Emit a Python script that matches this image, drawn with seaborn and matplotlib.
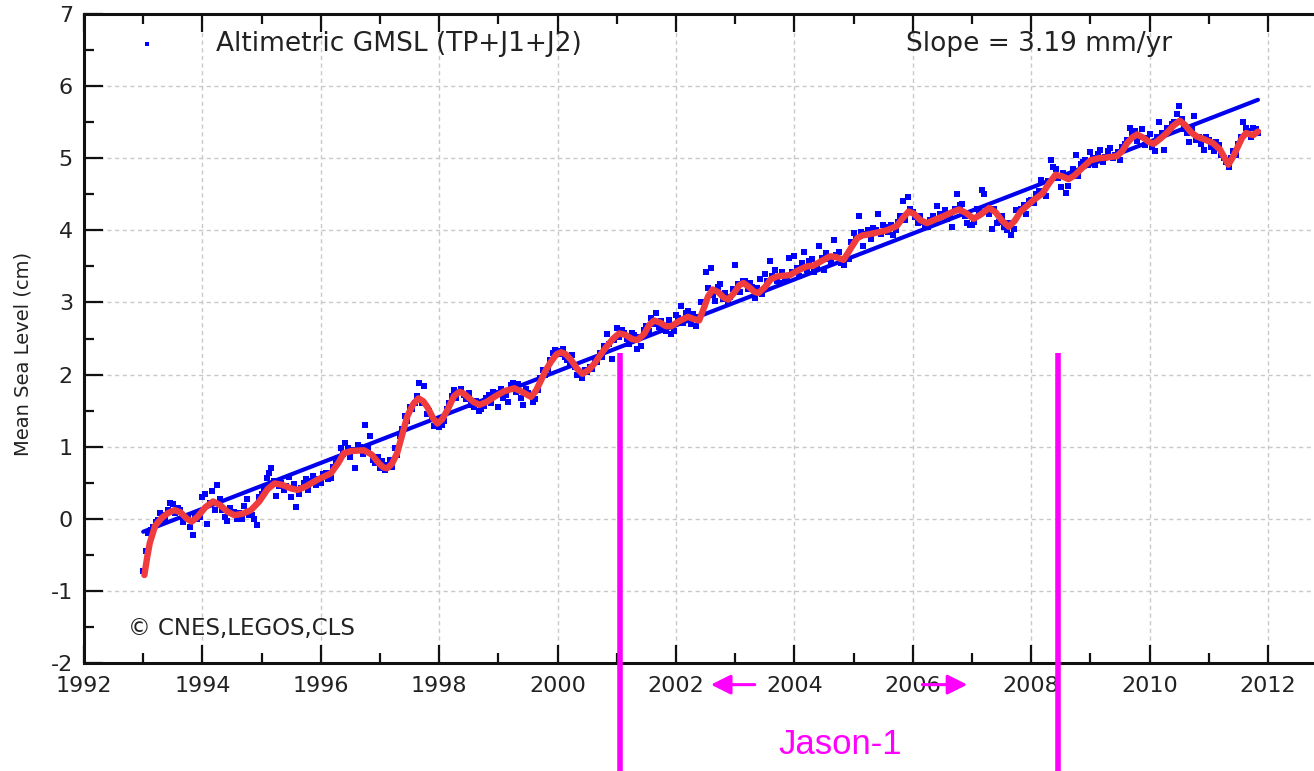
import numpy as np
import pandas as pd
import matplotlib
matplotlib.use("Agg")
import matplotlib.pyplot as plt
from matplotlib.ticker import MultipleLocator
import seaborn as sns

# ---------------- data ----------------
# GMSL dots, start-of-month samples
gmsl_1993 = [-0.72, -0.2, -0.12, -0.02, 0.05, 0.12, 0.21, 0.15, -0.05, 0.02, -0.22, 0.0]
gmsl_1994 = [0.3, -0.07, 0.38, 0.47, 0.12, -0.03, 0.08, 0.0, -0.01, 0.28, 0.05, -0.09]
gmsl_1995 = [0.35, 0.57, 0.7, 0.32, 0.5, 0.46, 0.3, 0.17, 0.43, 0.55, 0.52, 0.47]
gmsl_1996 = [0.5, 0.64, 0.57, 0.78, 0.98, 1.05, 0.85, 0.7, 1.0, 1.3, 1.15, 0.78]
gmsl_1997 = [0.7, 0.68, 0.82, 0.98, 1.15, 1.42, 1.55, 1.6, 1.88, 1.84, 1.5, 1.28]
gmsl_1998 = [1.27, 1.35, 1.6, 1.78, 1.76, 1.72, 1.74, 1.55, 1.49, 1.56, 1.72, 1.76]
gmsl_1999 = [1.55, 1.68, 1.62, 1.88, 1.87, 1.58, 1.75, 1.62, 1.78, 2.07, 2.08, 2.3]
gmsl_2000 = [2.33, 2.36, 2.2, 2.27, 2.0, 1.95, 2.04, 2.08, 2.17, 2.25, 2.56, 2.22]
gmsl_2001 = [2.65, 2.62, 2.5, 2.58, 2.36, 2.4, 2.68, 2.78, 2.85, 2.74, 2.6, 2.56]
gmsl_2002 = [2.82, 2.95, 2.85, 2.7, 2.67, 3.0, 3.42, 3.48, 3.02, 3.26, 3.13, 3.08]
gmsl_2003 = [3.52, 3.15, 3.3, 3.27, 3.06, 3.32, 3.4, 3.58, 3.45, 3.27, 3.3, 3.62]
gmsl_2004 = [3.64, 3.36, 3.7, 3.58, 3.42, 3.78, 3.45, 3.6, 3.86, 3.7, 3.52, 3.6]
gmsl_2005 = [3.96, 4.2, 3.78, 4.0, 4.03, 4.22, 4.08, 3.98, 3.93, 4.12, 4.4, 4.46]
gmsl_2006 = [4.25, 4.1, 4.12, 4.05, 4.2, 4.34, 4.22, 4.16, 4.05, 4.5, 4.36, 4.1]
gmsl_2007 = [4.07, 4.3, 4.56, 4.25, 4.02, 4.1, 4.2, 4.0, 3.94, 4.28, 4.3, 4.22]
gmsl_2008 = [4.42, 4.5, 4.7, 4.47, 4.97, 4.85, 4.6, 4.52, 4.78, 5.05, 4.92, 4.98]
gmsl_2009 = [5.08, 4.9, 5.12, 5.02, 5.14, 5.05, 4.97, 5.2, 5.42, 5.38, 5.3, 5.18]
gmsl_2010 = [5.33, 5.1, 5.5, 5.12, 5.36, 5.5, 5.72, 5.4, 5.22, 5.58, 5.3, 5.12]
gmsl_2011 = [5.25, 5.1, 5.18, 5.0, 4.88, 5.1, 5.2, 5.5, 5.38, 5.42, 5.35]

# GMSL dots, mid-month samples
gmsl_mid_1993 = [-0.45, -0.15, -0.05, 0.08, 0.0, 0.22, 0.08, 0.12, 0.0, -0.12, 0.05, 0.02]
gmsl_mid_1994 = [0.35, 0.22, 0.12, 0.28, 0.02, 0.15, 0.1, 0.08, 0.18, 0.05, 0.0, 0.3]
gmsl_mid_1995 = [0.42, 0.64, 0.52, 0.45, 0.4, 0.58, 0.48, 0.35, 0.5, 0.4, 0.6, 0.55]
gmsl_mid_1996 = [0.62, 0.55, 0.72, 0.84, 0.9, 0.98, 0.95, 1.02, 0.9, 0.98, 0.82, 0.85]
gmsl_mid_1997 = [0.8, 0.75, 0.72, 0.88, 1.25, 1.35, 1.52, 1.7, 1.6, 1.45, 1.38, 1.35]
gmsl_mid_1998 = [1.3, 1.52, 1.7, 1.68, 1.8, 1.66, 1.58, 1.64, 1.52, 1.68, 1.6, 1.74]
gmsl_mid_1999 = [1.8, 1.72, 1.85, 1.76, 1.68, 1.8, 1.72, 1.66, 1.95, 2.0, 2.2, 2.34]
gmsl_mid_2000 = [2.28, 2.25, 2.15, 2.1, 2.02, 2.06, 2.1, 2.18, 2.3, 2.4, 2.42, 2.48]
gmsl_mid_2001 = [2.52, 2.58, 2.42, 2.55, 2.52, 2.62, 2.6, 2.7, 2.66, 2.62, 2.75, 2.6]
gmsl_mid_2002 = [2.78, 2.72, 2.88, 2.84, 2.8, 2.86, 3.2, 3.1, 3.22, 3.05, 3.0, 3.18]
gmsl_mid_2003 = [3.25, 3.3, 3.18, 3.22, 3.2, 3.12, 3.3, 3.36, 3.3, 3.42, 3.35, 3.42]
gmsl_mid_2004 = [3.48, 3.55, 3.45, 3.6, 3.5, 3.62, 3.68, 3.58, 3.66, 3.55, 3.62, 3.84]
gmsl_mid_2005 = [3.9, 3.98, 3.95, 3.88, 4.0, 3.95, 4.04, 4.08, 4.0, 4.2, 4.15, 4.3]
gmsl_mid_2006 = [4.18, 4.2, 4.08, 4.15, 4.1, 4.22, 4.28, 4.18, 4.3, 4.35, 4.2, 4.08]
gmsl_mid_2007 = [4.12, 4.25, 4.5, 4.22, 4.3, 4.12, 4.05, 4.1, 4.02, 4.25, 4.35, 4.4]
gmsl_mid_2008 = [4.38, 4.55, 4.5, 4.68, 4.88, 4.72, 4.8, 4.62, 4.85, 4.75, 4.95, 4.9]
gmsl_mid_2009 = [5.0, 5.06, 4.95, 5.1, 5.0, 5.08, 5.15, 5.25, 5.35, 5.24, 5.4, 5.28]
gmsl_mid_2010 = [5.15, 5.3, 5.35, 5.42, 5.48, 5.62, 5.55, 5.35, 5.42, 5.25, 5.2, 5.3]
gmsl_mid_2011 = [5.15, 5.22, 5.05, 4.95, 5.0, 5.05, 5.3, 5.42, 5.3, 5.4]

smooth_years = [
    1993.02, 1993.07, 1993.11, 1993.20, 1993.31, 1993.42, 1993.53, 1993.63, 1993.74, 1993.82,
    1993.92, 1994.05, 1994.18, 1994.30, 1994.42, 1994.54, 1994.68, 1994.82, 1994.96, 1995.10,
    1995.22, 1995.35, 1995.50, 1995.61, 1995.75, 1995.94, 1996.17, 1996.30, 1996.39, 1996.52,
    1996.73, 1996.86, 1996.98, 1997.06, 1997.12, 1997.20, 1997.29, 1997.38, 1997.46, 1997.56,
    1997.65, 1997.73, 1997.80, 1997.90, 1997.97, 1998.05, 1998.14, 1998.25, 1998.34, 1998.41,
    1998.48, 1998.58, 1998.68, 1998.80, 1998.93, 1999.10, 1999.27, 1999.40, 1999.55, 1999.63,
    1999.72, 1999.80, 1999.89, 1999.98, 2000.06, 2000.14, 2000.23, 2000.33, 2000.42, 2000.52,
    2000.62, 2000.72, 2000.82, 2000.94, 2001.04, 2001.15, 2001.26, 2001.35, 2001.46, 2001.55,
    2001.63, 2001.73, 2001.83, 2001.92, 2002.05, 2002.20, 2002.30, 2002.39, 2002.47, 2002.54,
    2002.62, 2002.72, 2002.80, 2002.88, 2002.98, 2003.07, 2003.14, 2003.24, 2003.32, 2003.39,
    2003.50, 2003.60, 2003.70, 2003.82, 2003.93, 2004.05, 2004.21, 2004.32, 2004.45, 2004.60,
    2004.70, 2004.83, 2004.93, 2005.06, 2005.15, 2005.23, 2005.40, 2005.56, 2005.73, 2005.83,
    2005.93, 2006.02, 2006.13, 2006.24, 2006.38, 2006.53, 2006.66, 2006.78, 2006.90, 2007.03,
    2007.15, 2007.29, 2007.40, 2007.50, 2007.62, 2007.72, 2007.82, 2007.93, 2008.04, 2008.19,
    2008.30, 2008.41, 2008.52, 2008.63, 2008.73, 2008.83, 2009.00, 2009.14, 2009.28, 2009.45,
    2009.54, 2009.62, 2009.71, 2009.79, 2009.90, 2010.00, 2010.07, 2010.18, 2010.29, 2010.40,
    2010.51, 2010.60, 2010.70, 2010.80, 2010.93, 2011.07, 2011.19, 2011.27, 2011.33, 2011.41,
    2011.49, 2011.56, 2011.63, 2011.70, 2011.75, 2011.83]
smooth_values = [
    -0.78, -0.52, -0.34, -0.10, 0.01, 0.08, 0.12, 0.09, 0.00, -0.04,
    0.03, 0.16, 0.24, 0.19, 0.10, 0.05, 0.07, 0.12, 0.24, 0.41,
    0.49, 0.47, 0.42, 0.40, 0.45, 0.54, 0.63, 0.78, 0.91, 0.94,
    0.95, 0.89, 0.77, 0.71, 0.70, 0.76, 0.91, 1.18, 1.42, 1.59,
    1.67, 1.63, 1.55, 1.39, 1.32, 1.38, 1.51, 1.70, 1.76, 1.74,
    1.69, 1.62, 1.58, 1.62, 1.69, 1.77, 1.81, 1.76, 1.69, 1.77,
    1.92, 2.06, 2.18, 2.28, 2.31, 2.28, 2.20, 2.08, 2.01, 2.06,
    2.15, 2.27, 2.38, 2.50, 2.57, 2.55, 2.49, 2.48, 2.56, 2.69,
    2.75, 2.72, 2.67, 2.67, 2.74, 2.80, 2.77, 2.75, 2.92, 3.08,
    3.18, 3.14, 3.07, 3.04, 3.13, 3.24, 3.27, 3.21, 3.15, 3.13,
    3.21, 3.32, 3.36, 3.37, 3.38, 3.44, 3.50, 3.51, 3.57, 3.64,
    3.63, 3.59, 3.72, 3.89, 3.93, 3.94, 3.97, 4.00, 4.06, 4.17,
    4.26, 4.23, 4.14, 4.10, 4.15, 4.20, 4.25, 4.29, 4.24, 4.16,
    4.22, 4.31, 4.25, 4.14, 4.05, 4.13, 4.26, 4.34, 4.42, 4.51,
    4.65, 4.77, 4.75, 4.71, 4.76, 4.84, 4.97, 5.00, 5.01, 5.03,
    5.10, 5.21, 5.29, 5.33, 5.28, 5.22, 5.20, 5.27, 5.35, 5.45,
    5.52, 5.46, 5.36, 5.30, 5.26, 5.21, 5.12, 5.00, 4.91, 5.02,
    5.16, 5.28, 5.35, 5.33, 5.32, 5.37]

trend_years = [1993.0, 2011.83]
trend_values = [-0.18, 5.81]

x_ticks = list(range(1992, 2013, 2))
y_ticks = list(range(-2, 8))
legend_label = "Altimetric GMSL (TP+J1+J2)"
slope_label = "Slope = 3.19 mm/yr"
credit_label = "\u00a9 CNES,LEGOS,CLS"
y_label = "Mean Sea Level (cm)"
mission_label = "Jason-1"
mission_bounds = [2001.05, 2008.45]

gmsl_values = (gmsl_1993 + gmsl_1994 + gmsl_1995 + gmsl_1996 + gmsl_1997 + gmsl_1998 +
               gmsl_1999 + gmsl_2000 + gmsl_2001 + gmsl_2002 + gmsl_2003 + gmsl_2004 +
               gmsl_2005 + gmsl_2006 + gmsl_2007 + gmsl_2008 + gmsl_2009 + gmsl_2010 +
               gmsl_2011)
gmsl_mid_values = (gmsl_mid_1993 + gmsl_mid_1994 + gmsl_mid_1995 + gmsl_mid_1996 +
                   gmsl_mid_1997 + gmsl_mid_1998 + gmsl_mid_1999 + gmsl_mid_2000 +
                   gmsl_mid_2001 + gmsl_mid_2002 + gmsl_mid_2003 + gmsl_mid_2004 +
                   gmsl_mid_2005 + gmsl_mid_2006 + gmsl_mid_2007 + gmsl_mid_2008 +
                   gmsl_mid_2009 + gmsl_mid_2010 + gmsl_mid_2011)
years_a = 1993.0 + np.arange(len(gmsl_values)) / 12.0
years_b = 1993.0 + 1.0 / 24.0 + np.arange(len(gmsl_mid_values)) / 12.0
df_pts = pd.DataFrame({"year": np.concatenate([years_a, years_b]),
                       "msl": list(gmsl_values) + list(gmsl_mid_values)})
df_smooth = pd.DataFrame({"year": smooth_years, "msl": smooth_values})
df_trend = pd.DataFrame({"year": trend_years, "msl": trend_values})

# ---------------- style ----------------
sns.set_style("ticks")
plt.rcParams["font.family"] = ["DejaVu Sans"]
plt.rcParams["axes.unicode_minus"] = False

fig = plt.figure(figsize=(13.14, 7.71), dpi=100)
ax = fig.add_axes([84 / 1314, 1 - 663 / 771, 1230 / 1314, 649 / 771])

ax.grid(True, which="major", color="#c8c8c8", linestyle=(0, (3, 2.5)), linewidth=1.0)
ax.set_axisbelow(True)

sns.scatterplot(data=df_pts, x="year", y="msl", ax=ax, marker="s", s=16,
                color="#0000ff", linewidth=0, label=legend_label, zorder=3)
sns.lineplot(data=df_trend, x="year", y="msl", ax=ax, color="#0000ee",
             linewidth=3.0, zorder=4, legend=False)
sns.lineplot(data=df_smooth, x="year", y="msl", ax=ax, color="#f03c3c",
             linewidth=4.6, zorder=5, legend=False, sort=False,
             solid_joinstyle="round", solid_capstyle="round")

ax.set_xlim(1992, 1992 + 1230 / 59.2)
ax.set_ylim(-2, 7)
ax.set_xticks(x_ticks)
ax.set_yticks(y_ticks)
ax.xaxis.set_minor_locator(MultipleLocator(1))
ax.yaxis.set_minor_locator(MultipleLocator(0.5))
ax.tick_params(which="both", direction="in", top=True, right=False, width=1.6,
               colors="#111111", labelsize=16, labelcolor="#222222")
ax.tick_params(which="major", length=13, pad=9)
ax.tick_params(which="minor", length=7)
ax.tick_params(axis="y", which="major", length=14, pad=8)

for s in ["left", "top", "bottom"]:
    ax.spines[s].set_linewidth(2.2)
    ax.spines[s].set_color("#111111")
ax.spines["right"].set_visible(False)

ax.set_xlabel("")
ax.set_ylabel(y_label, fontsize=14, color="#222222")
ax.yaxis.set_label_coords((33 - 84) / 1230, 0.476)

leg = ax.legend(loc="center left", bbox_to_anchor=((134 - 84) / 1230, (663 - 44) / 649),
                frameon=False, fontsize=19, handlelength=1.0, handletextpad=2.1,
                borderpad=0, borderaxespad=0, markerscale=0.7)
for t in leg.get_texts():
    t.set_color("#222222")

ax.text(2005.89, 6.58, slope_label, fontsize=19, color="#222222", va="center", ha="left")
ax.text(1992.74, -1.52, credit_label, fontsize=16.5, color="#222222", va="center", ha="left")

# Jason-1 annotations
for xb in mission_bounds:
    ax.plot([xb, xb], [2.3, -3.8], color="#ff00ff", linewidth=4.0, clip_on=False,
            solid_capstyle="butt", zorder=10)
arrow_kw = dict(arrowstyle="-|>,head_length=0.6,head_width=0.3", mutation_scale=20,
                color="#ff00ff", lw=2.2, shrinkA=0, shrinkB=0)
ax.annotate("", xy=(2002.59, -2.30), xytext=(2003.33, -2.30), arrowprops=arrow_kw,
            annotation_clip=False)
ax.annotate("", xy=(2006.92, -2.30), xytext=(2006.16, -2.30), arrowprops=arrow_kw,
            annotation_clip=False)
ax.text(2004.77, -3.13, mission_label, fontsize=25, color="#ff00ff",
        family=["Liberation Sans", "DejaVu Sans"], ha="center", va="center", clip_on=False)

fig.savefig("out.png", dpi=100)
